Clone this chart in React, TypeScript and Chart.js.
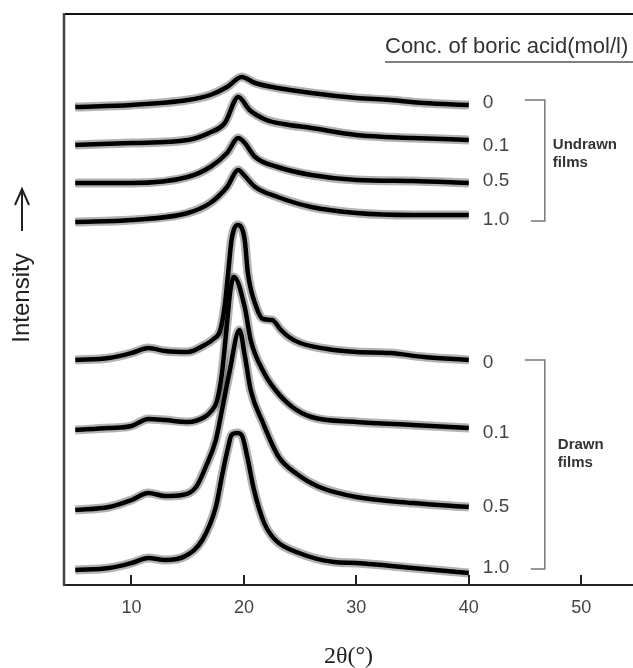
import React, { useEffect, useRef } from "react";
import { Chart, registerables } from "chart.js";

Chart.register(...registerables);

// ---- axis / tick data ----
const X_MIN = 4;
const X_MAX = 54.6;
const Y_MIN = 0;
const Y_MAX = 571;
const X_TICKS = [10, 20, 30, 40, 50];

// ---- series (2θ in degrees, intensity in arbitrary offset units) ----
// Undrawn films
const U0_X = [5, 10, 15, 17, 18.5, 19.8, 21, 23, 26, 30, 33, 36, 40];
const U0_Y = [478, 480, 485, 490, 498, 508, 502, 497, 492, 487, 485, 482, 480];

const U01_X = [5, 10, 15, 16.9, 18.3, 19.5, 20.5, 22, 23.5, 26, 30, 35, 40];
const U01_Y = [440, 442, 445, 452, 462, 488, 475, 465, 461, 457, 450, 447, 445];

const U05_X = [5, 10, 15, 17, 18.5, 19.5, 20, 21, 23, 26, 30, 35, 40];
const U05_Y = [402, 402, 408, 418, 432, 447, 443, 428, 418, 410, 405, 404, 402];

const U10_X = [5, 10, 15, 17, 18.5, 19.5, 20, 21, 23, 26, 30, 35, 40];
const U10_Y = [363, 365, 372, 382, 398, 415, 410, 398, 388, 378, 372, 370, 370];

// Drawn films
const D0_X = [5, 8, 10, 11.5, 13, 15, 16.5, 17.3, 17.9, 18.3, 18.6, 18.9, 19.45, 20.07, 20.35, 21.1, 21.7, 22.5, 23.3, 24, 25, 28, 30, 33, 36, 40];
const D0_Y = [225, 227, 232, 237, 234, 233, 240, 246, 255, 280, 312, 345, 360, 345, 312, 278, 266, 265, 255, 248, 242, 235, 233, 232, 228, 225];

const D01_X = [5, 8, 10, 11.5, 13, 15, 16.5, 17.1, 17.6, 18.05, 18.5, 18.8, 19.12, 20.07, 20.6, 21.8, 22.8, 24.3, 26, 30, 35, 40];
const D01_Y = [155, 157, 159, 166, 165, 163, 168, 174, 184, 212, 262, 295, 308, 278, 245, 212, 195, 178, 168, 163, 160, 157];

const D05_X = [5, 8, 10, 11.5, 13, 14.5, 15.75, 16.6, 17.5, 18.1, 18.7, 19.6, 20.1, 20.6, 21.7, 23.1, 24.6, 26.7, 30, 35, 40];
const D05_Y = [75, 78, 85, 92, 89, 90, 98, 118, 145, 178, 212, 255, 228, 195, 162, 128, 112, 98, 88, 82, 78];

const D10_X = [5, 8, 10, 11.5, 13, 14.8, 16.3, 17.5, 18.1, 18.6, 18.9, 19.4, 19.8, 20.3, 20.9, 21.8, 22.8, 24.9, 28, 30, 35, 40];
const D10_Y = [15, 17, 22, 27, 25, 29, 45, 78, 112, 138, 150, 152, 150, 128, 95, 62, 45, 32, 23, 22, 17, 12];

const SERIES_X = [U0_X, U01_X, U05_X, U10_X, D0_X, D01_X, D05_X, D10_X];
const SERIES_Y = [U0_Y, U01_Y, U05_Y, U10_Y, D0_Y, D01_Y, D05_Y, D10_Y];
const SERIES_LABELS = ["0", "0.1", "0.5", "1.0", "0", "0.1", "0.5", "1.0"];
// label anchors (intensity units) for the right-hand concentration labels
const LABEL_ANCHORS = [482, 439, 404, 365, 222, 152, 78, 17];

const GROUP_NAMES = [["Undrawn", "films"], ["Drawn", "films"]];
const GROUP_MEMBERS = [[0, 3], [4, 7]];
const GROUP_CENTERS = [431, 131];

const LEGEND_TITLE = "Conc. of boric acid(mol/l)";
const X_TITLE = "2θ(°)";
const Y_TITLE = "Intensity";

const SANS = '"Liberation Sans", Arial, sans-serif';

const decorPlugin = {
  id: "decor",
  afterDraw(chart: any) {
    const { ctx, chartArea, scales } = chart;
    const xs = scales.x;
    const ys = scales.y;
    ctx.save();

    // frame: top and left
    ctx.strokeStyle = "#111";
    ctx.lineWidth = 2;
    ctx.beginPath();
    ctx.moveTo(chartArea.left, chartArea.top);
    ctx.lineTo(chartArea.right, chartArea.top);
    ctx.stroke();
    ctx.strokeStyle = "#444";
    ctx.lineWidth = 2.5;
    ctx.beginPath();
    ctx.moveTo(chartArea.left, chartArea.top - 1);
    ctx.lineTo(chartArea.left, chartArea.bottom);
    ctx.stroke();

    // inward tick marks
    ctx.strokeStyle = "#222";
    ctx.lineWidth = 2;
    for (const t of X_TICKS) {
      const px = Math.round(xs.getPixelForValue(t));
      ctx.beginPath();
      ctx.moveTo(px, chartArea.bottom);
      ctx.lineTo(px, chartArea.bottom - 10);
      ctx.stroke();
    }

    // concentration labels
    const endPx = xs.getPixelForValue(40);
    ctx.fillStyle = "#444";
    ctx.font = `19px ${SANS}`;
    ctx.textAlign = "left";
    ctx.textBaseline = "middle";
    SERIES_LABELS.forEach((lab, i) => {
      ctx.fillText(lab, endPx + 14, ys.getPixelForValue(LABEL_ANCHORS[i]));
    });

    // brackets
    ctx.strokeStyle = "#777";
    ctx.lineWidth = 1.5;
    const bx = endPx + 76;
    GROUP_MEMBERS.forEach(([a, b], gi) => {
      const y1 = ys.getPixelForValue(LABEL_ANCHORS[a]) - 3;
      const y2 = ys.getPixelForValue(LABEL_ANCHORS[b]) + 1;
      ctx.beginPath();
      ctx.moveTo(bx - 20, y1);
      ctx.lineTo(bx, y1);
      ctx.lineTo(bx, y2);
      ctx.lineTo(bx - 14, y2);
      ctx.stroke();
      ctx.fillStyle = "#333";
      ctx.font = `bold 15px ${SANS}`;
      ctx.textBaseline = "middle";
      const cy = ys.getPixelForValue(GROUP_CENTERS[gi]);
      const tx = bx + (gi === 0 ? 8 : 13);
      ctx.fillText(GROUP_NAMES[gi][0], tx, cy - 9);
      ctx.fillText(GROUP_NAMES[gi][1], tx, cy + 9);
    });

    // legend title with underline
    ctx.fillStyle = "#333";
    ctx.font = `22px ${SANS}`;
    ctx.textAlign = "left";
    ctx.textBaseline = "middle";
    ctx.fillText(LEGEND_TITLE, 385, 47);
    ctx.strokeStyle = "#555";
    ctx.lineWidth = 1.5;
    ctx.beginPath();
    ctx.moveTo(385, 62);
    ctx.lineTo(chart.width, 62);
    ctx.stroke();

    // y title + arrow
    ctx.save();
    ctx.translate(22, 298);
    ctx.rotate(-Math.PI / 2);
    ctx.fillStyle = "#222";
    ctx.font = `24px ${SANS}`;
    ctx.textAlign = "center";
    ctx.textBaseline = "middle";
    ctx.fillText(Y_TITLE, 0, 0);
    ctx.restore();
    ctx.strokeStyle = "#222";
    ctx.lineWidth = 2;
    ctx.beginPath();
    ctx.moveTo(22, 231);
    ctx.lineTo(22, 189);
    ctx.moveTo(15, 205);
    ctx.lineTo(22, 189);
    ctx.lineTo(29, 205);
    ctx.stroke();

    ctx.restore();
  },
};

export default function App() {
  const ref = useRef<HTMLCanvasElement | null>(null);
  useEffect(() => {
    if (!ref.current) return;
    const datasets: any[] = [];
    SERIES_X.forEach((xsArr, i) => {
      const pts = xsArr.map((x, j) => ({ x, y: SERIES_Y[i][j] }));
      datasets.push({
        label: "band" + i,
        data: pts,
        borderColor: "rgba(0,0,0,0.3)",
        borderWidth: 9,
        pointRadius: 0,
        cubicInterpolationMode: "monotone",
        order: 2,
      });
      datasets.push({
        label: SERIES_LABELS[i],
        data: pts,
        borderColor: "#000",
        borderWidth: 4.5,
        pointRadius: 0,
        cubicInterpolationMode: "monotone",
        order: 1,
      });
    });
    const chart = new Chart(ref.current, {
      type: "line",
      data: { datasets },
      options: {
        responsive: false,
        animation: false,
        layout: { padding: { left: 64, top: 14, right: 0, bottom: 0 } },
        plugins: { legend: { display: false }, tooltip: { enabled: false } },
        scales: {
          x: {
            type: "linear",
            min: X_MIN,
            max: X_MAX,
            afterBuildTicks: (s: any) => {
              s.ticks = X_TICKS.map((v) => ({ value: v }));
            },
            afterFit: (s: any) => {
              s.height = 83;
            },
            grid: { display: false, drawTicks: false },
            border: { display: true, color: "#222", width: 2 },
            ticks: {
              padding: 12,
              color: "#444",
              font: { size: 18, family: SANS },
              maxRotation: 0,
              autoSkip: false,
            },
            title: {
              display: true,
              text: X_TITLE,
              color: "#222",
              font: { size: 24, family: '"Liberation Serif", "Times New Roman", serif' },
              padding: { top: 0, bottom: -3 },
            },
          },
          y: {
            type: "linear",
            min: Y_MIN,
            max: Y_MAX,
            display: false,
          },
        },
      },
      plugins: [decorPlugin],
    });
    return () => chart.destroy();
  }, []);
  return (
    <div style={{ position: "absolute", left: 0, top: 0, width: 633, height: 668, background: "#fff" }}>
      <canvas ref={ref} width={633} height={668} style={{ display: "block" }} />
    </div>
  );
}
